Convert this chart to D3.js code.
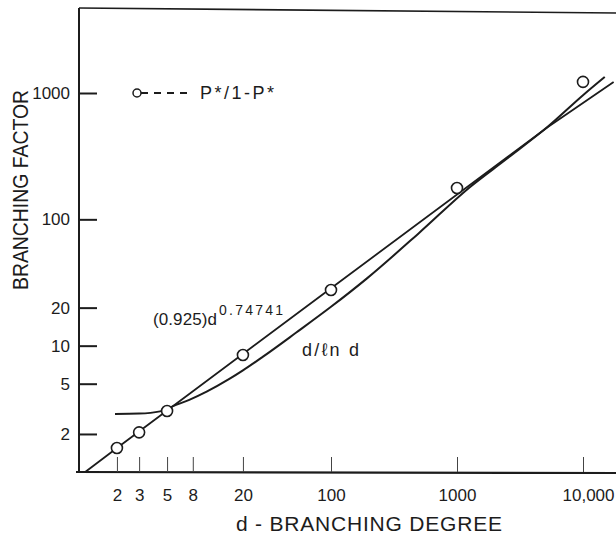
<!DOCTYPE html>
<html>
<head>
<meta charset="utf-8">
<script src="https://cdn.jsdelivr.net/npm/d3@7"></script>
<style>
body { margin: 0; background: #fff; }
svg text { font-family: "Liberation Sans", "DejaVu Sans", sans-serif; fill: #1c1c1c; }
</style>
</head>
<body>
<div id="chart"></div>
<script>
// observed branching factor P*/1-P*
var degree = [2, 3, 5, 20, 100, 1000, 10000];
var branchingFactor = [1.55, 2.06, 3.04, 8.44, 27.6, 177, 1224];

// fitted line (0.925)d^0.74741
var powerDegree = [1.12, 2, 100, 5300, 17500];
var powerValue = [1.0, 1.55, 28.5, 540, 1224];

// d / ln d curve
var lnDegree = [1.93, 3.0, 4.4, 5.7, 7.5, 10.3, 15.6, 20, 28.5, 53, 100, 193, 500, 1250, 2500, 5300, 10000, 14900];
var lnValue = [2.88, 2.9, 3.02, 3.35, 3.72, 4.32, 5.45, 6.37, 8.11, 12.7, 20.3, 34.1, 78, 178, 303, 545, 960, 1340];

var xTicks = [2, 3, 5, 8, 20, 100, 1000, 10000];
var xTickLabels = ['2', '3', '5', '8', '20', '100', '1000', '10,000'];
var yTicks = [2, 5, 10, 20, 100, 1000];
var yTickLabels = ['2', '5', '10', '20', '100', '1000'];

var width = 616, height = 540;
var ink = '#1c1c1c';

var svg = d3.select('#chart')
    .append('svg')
    .attr('width', width)
    .attr('height', height);

// one decade is ~126px on both axes
var x = d3.scaleLog()
    .domain([1, 10000])
    .range([79, 583]);

var y = d3.scaleLog()
    .domain([1, 1000])
    .range([472, 93]);

var yTop = 8;

// frame: left, bottom, top (top edge drifts a little on the original)
svg.append('line')
    .attr('x1', x(1)).attr('y1', yTop)
    .attr('x2', x(1)).attr('y2', y(1))
    .attr('stroke', ink).attr('stroke-width', 2);

svg.append('line')
    .attr('x1', x(1) - 3).attr('y1', y(1))
    .attr('x2', width).attr('y2', y(1) + 1)
    .attr('stroke', ink).attr('stroke-width', 2.2);

svg.append('line')
    .attr('x1', x(1)).attr('y1', yTop)
    .attr('x2', width).attr('y2', yTop + 5)
    .attr('stroke', ink).attr('stroke-width', 1.6);

// x axis, ticks point up into the plot
var xAxis = d3.axisBottom(x)
    .tickValues(xTicks)
    .tickFormat(function(d, i) { return xTickLabels[i]; })
    .tickSizeInner(-15)
    .tickSizeOuter(0)
    .tickPadding(17);

var gx = svg.append('g')
    .attr('transform', 'translate(0,' + y(1) + ')')
    .call(xAxis);
gx.select('.domain').remove();
gx.selectAll('line').attr('stroke', '#444').attr('stroke-width', 1);
gx.selectAll('text')
    .attr('font-size', 17)
    .attr('fill', ink)
    .attr('font-family', '"Liberation Sans", sans-serif')
    .attr('dx', function(d) { return d === 10000 ? 5 : 0; });

// y axis, ticks point right into the plot
var yAxis = d3.axisLeft(y)
    .tickValues(yTicks)
    .tickFormat(function(d, i) { return yTickLabels[i]; })
    .tickSizeInner(-18)
    .tickSizeOuter(0)
    .tickPadding(9);

var gy = svg.append('g')
    .attr('transform', 'translate(' + x(1) + ',0)')
    .call(yAxis);
gy.select('.domain').remove();
gy.selectAll('line').attr('stroke', ink).attr('stroke-width', 2);
gy.selectAll('text')
    .attr('font-size', 17)
    .attr('fill', ink)
    .attr('font-family', '"Liberation Sans", sans-serif');

// curves
var line = d3.line()
    .x(function(d) { return x(d[0]); })
    .y(function(d) { return y(d[1]); });

svg.append('path')
    .datum(d3.zip(powerDegree, powerValue))
    .attr('d', line)
    .attr('fill', 'none')
    .attr('stroke', ink)
    .attr('stroke-width', 1.8);

svg.append('path')
    .datum(d3.zip(lnDegree, lnValue))
    .attr('d', line.curve(d3.curveMonotoneX))
    .attr('fill', 'none')
    .attr('stroke', ink)
    .attr('stroke-width', 2);

// points
svg.append('g')
    .selectAll('circle')
    .data(d3.zip(degree, branchingFactor))
    .enter()
    .append('circle')
    .attr('cx', function(d) { return x(d[0]); })
    .attr('cy', function(d) { return y(d[1]); })
    .attr('r', 5.5)
    .attr('fill', '#fff')
    .attr('stroke', ink)
    .attr('stroke-width', 1.6);

// legend
var legend = svg.append('g').attr('transform', 'translate(137,' + y(1000) + ')');
legend.append('line')
    .attr('x1', 4).attr('x2', 56)
    .attr('y1', 0).attr('y2', 0)
    .attr('stroke', ink).attr('stroke-width', 2)
    .attr('stroke-dasharray', '7,6');
legend.append('circle')
    .attr('r', 4)
    .attr('fill', '#fff')
    .attr('stroke', ink)
    .attr('stroke-width', 1.5);
legend.append('text')
    .attr('x', 63)
    .attr('y', 6)
    .attr('font-size', 18)
    .attr('textLength', 74)
    .attr('lengthAdjust', 'spacing')
    .text('P*/1-P*');

// curve labels
var powerLabel = svg.append('text')
    .attr('x', 153)
    .attr('y', 325)
    .attr('font-size', 17);
powerLabel.append('tspan')
    .attr('textLength', 64)
    .text('(0.925)d');
powerLabel.append('tspan')
    .attr('dx', 2)
    .attr('dy', -10)
    .attr('font-size', 14)
    .attr('textLength', 64)
    .attr('lengthAdjust', 'spacing')
    .text('0.74741');

svg.append('text')
    .attr('x', 302)
    .attr('y', 356)
    .attr('font-size', 18)
    .attr('textLength', 57)
    .attr('lengthAdjust', 'spacing')
    .text('d/\u2113n d');

// axis titles
svg.append('text')
    .attr('x', 236)
    .attr('y', 531)
    .attr('font-size', 21)
    .attr('textLength', 266)
    .attr('lengthAdjust', 'spacing')
    .text('d - BRANCHING DEGREE');

svg.append('text')
    .attr('transform', 'translate(28,290) rotate(-90)')
    .attr('font-size', 22)
    .attr('textLength', 200)
    .attr('lengthAdjust', 'spacingAndGlyphs')
    .text('BRANCHING FACTOR');
</script>
</body>
</html>
